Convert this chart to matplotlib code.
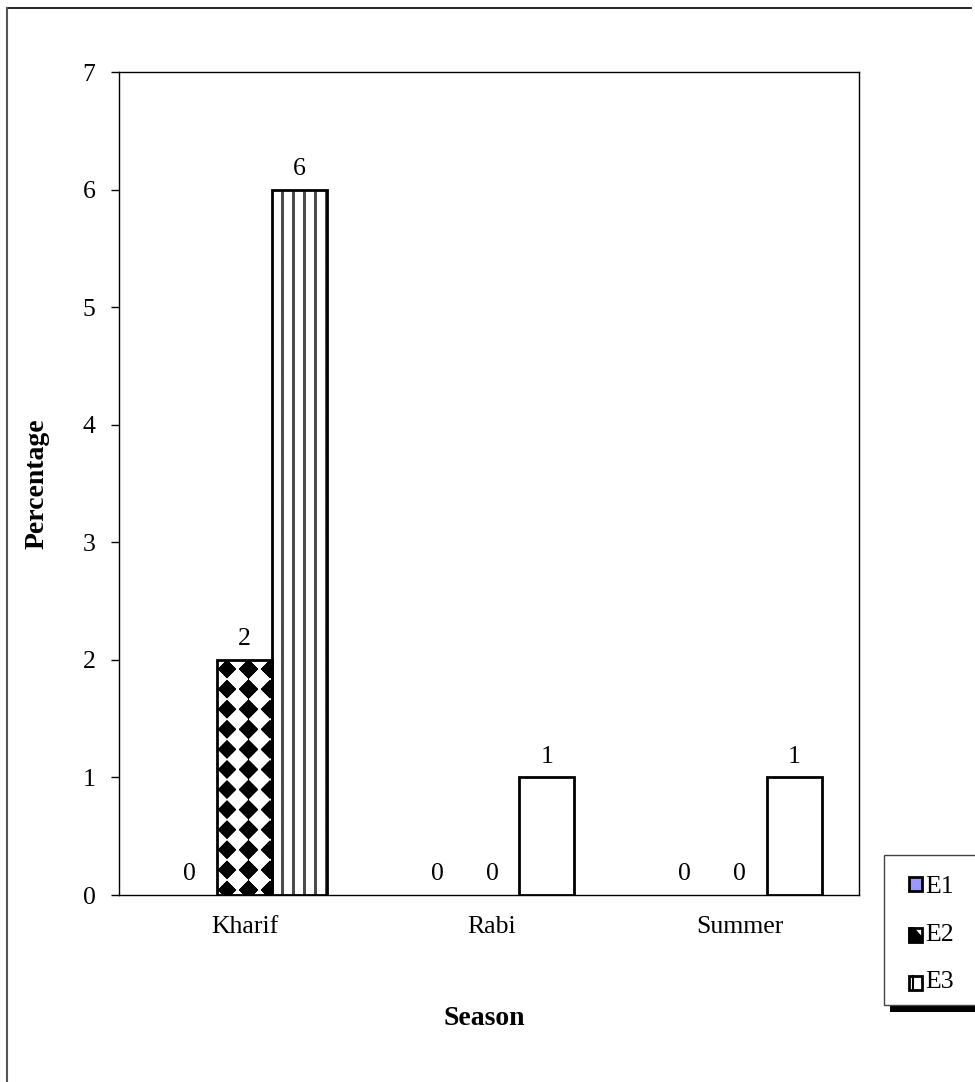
import numpy as np
import matplotlib
matplotlib.use("Agg")
import matplotlib.pyplot as plt
from matplotlib.patches import Rectangle, Polygon
from matplotlib.lines import Line2D
from matplotlib.legend_handler import HandlerBase

categories = ["Kharif", "Rabi", "Summer"]
series_names = ["E1", "E2", "E3"]
E1 = [0, 0, 0]
E2 = [2, 0, 0]
E3 = [6, 1, 1]
yticks = [0, 1, 2, 3, 4, 5, 6, 7]

plt.rcParams['font.family'] = ['Liberation Serif', 'DejaVu Serif']
FS = 18.5
LFS = 20

fig = plt.figure(figsize=(9.75, 10.82), dpi=100)
W, H = 975, 1082
ax = fig.add_axes([119 / W, 1 - 895 / H, 740 / W, (895 - 72) / H])

x = np.arange(len(categories))
bw = 0.222
offsets = [-bw, 0, bw]
data = [E1, E2, E3]
containers = []
for k, (vals, off) in enumerate(zip(data, offsets)):
    c = ax.bar(x + off, vals, bw, color='white', edgecolor='black', linewidth=2, zorder=3)
    containers.append(c)
    for rect, v in zip(c, vals):
        ax.annotate(f"{v}", (rect.get_x() + rect.get_width() / 2, v),
                    xytext=(0, 7), textcoords='offset points', ha='center', va='bottom',
                    fontsize=FS, zorder=5)
        if v == 0:
            rect.set_visible(False)

ax.set_xlim(-0.507, 2.483)
ax.set_ylim(0, 7)
ax.set_yticks(yticks)
ax.set_xticks(x)
ax.set_xticklabels(categories, fontsize=FS)
ax.tick_params(axis='y', direction='out', length=6, width=1, labelsize=FS, pad=11)
ax.tick_params(axis='x', length=0, pad=15)
for s in ax.spines.values():
    s.set_linewidth(1)
ax.set_ylabel("Percentage", fontsize=LFS, fontweight='bold')
ax.yaxis.set_label_coords((50 - 119) / 740, 0.5)
ax.set_xlabel("Season", fontsize=LFS, fontweight='bold')
ax.xaxis.set_label_coords(0.493, -(1006 - 895) / 823)


def fill_pattern(rect, kind):
    x0, y0 = rect.get_x(), rect.get_y()
    x1, y1 = x0 + rect.get_width(), y0 + rect.get_height()
    if rect.get_height() <= 0:
        return
    p0 = ax.transData.transform((x0, y0))
    p1 = ax.transData.transform((x1, y1))
    wpx = int(round(p1[0] - p0[0]))
    hpx = int(round(p1[1] - p0[1]))
    xx, yy = np.meshgrid(np.arange(wpx) + 0.5, np.arange(hpx) + 0.5)
    if kind == 'diamond':
        px, py = 21.5, 20.0
        dx = (xx - 10) - px * np.round((xx - 10) / px)
        dy = (yy - 10) - py * np.round((yy - 10) / py)
        mask = (np.abs(dx) / 10.0 + np.abs(dy) / 9.5) <= 1.0
        img = np.where(mask, 0.0, 1.0)
    else:
        period = 11.0
        d = ((xx - 9.5) % period)
        mask = d < 2.5
        img = np.where(mask, 0.3, 1.0)
    im = ax.imshow(img, cmap='gray', vmin=0, vmax=1, extent=(x0, x1, y0, y1),
                   origin='upper', aspect='auto', interpolation='bilinear', zorder=2.5)
    im.set_clip_path(rect)


fill_pattern(containers[1][0], 'diamond')
fill_pattern(containers[2][0], 'stripes')
ax.set_xlim(-0.507, 2.483)
ax.set_ylim(0, 7)
for rect in list(containers[1]) + list(containers[2]):
    rect.set_facecolor('none')

# outer border (top and left)
fig.add_artist(Line2D([7 / W, 971 / W], [1 - 8 / H, 1 - 8 / H], color='black', lw=1.2))
fig.add_artist(Line2D([7 / W, 7 / W], [1 - 8 / H, 0], color='#555555', lw=1.5))

# legend box with shadow
fig.add_artist(Rectangle((890 / W, 1 - 1012 / H), 100 / W, 8 / H, transform=fig.transFigure,
                         facecolor='black', edgecolor='none'))
fig.add_artist(Rectangle((884 / W, 1 - 1005 / H), 110 / W, 150 / H, transform=fig.transFigure,
                         facecolor='white', edgecolor='#444444', lw=1))


class HandlerE2(HandlerBase):
    def create_artists(self, legend, orig_handle, xd, yd, width, height, fontsize, trans):
        r = Rectangle((xd, yd), width, height, facecolor='white', edgecolor='black', lw=2,
                      transform=trans)
        p = Polygon([[xd, yd], [xd + width, yd], [xd + width, yd + height * 0.35],
                     [xd + width * 0.35, yd + height], [xd, yd + height]], closed=True,
                    facecolor='black', edgecolor='black', lw=1, transform=trans)
        return [r, p]


class HandlerE3(HandlerBase):
    def create_artists(self, legend, orig_handle, xd, yd, width, height, fontsize, trans):
        r = Rectangle((xd, yd), width, height, facecolor='white', edgecolor='black', lw=2,
                      transform=trans)
        l1 = Line2D([xd + width * 0.33] * 2, [yd, yd + height], color='black', lw=1.5,
                    transform=trans)
        return [r, l1]


h1 = Rectangle((0, 0), 1, 1, facecolor='#9999FF', edgecolor='black', lw=2)
h2 = Rectangle((0, 0), 1, 1, facecolor='white', edgecolor='black', lw=2)
h3 = Rectangle((0, 0), 1, 1, facecolor='white', edgecolor='black', lw=2)
leg = fig.legend([h1, h2, h3], series_names, loc='upper left',
                 bbox_to_anchor=(891 / W, 1 - 858 / H), bbox_transform=fig.transFigure,
                 frameon=False, fontsize=FS, handlelength=0.5, handleheight=0.5,
                 handletextpad=0.12, labelspacing=1.0, borderpad=0.2,
                 handler_map={h2: HandlerE2(), h3: HandlerE3()})

fig.savefig("out.png", dpi=100)
